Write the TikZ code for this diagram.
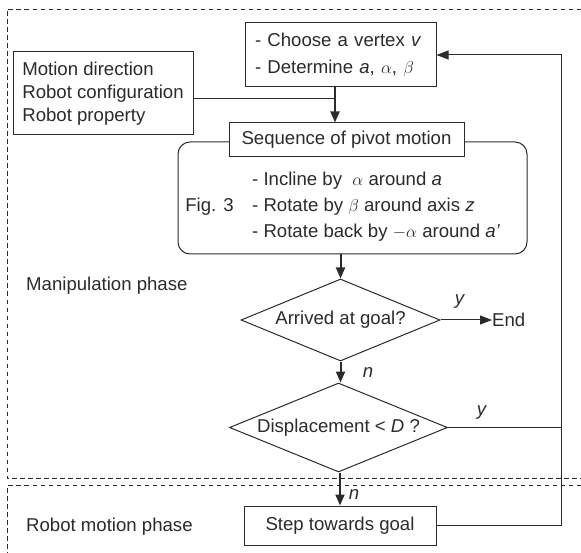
\documentclass[tikz,border=0pt]{standalone}
\usepackage{amsmath}
\usepackage{fontspec}
\setmainfont{Liberation Sans}
\usetikzlibrary{shapes.geometric,arrows.meta}

\definecolor{ink}{HTML}{2B2B2B}
\tikzset{
	box/.style={draw, line width=1pt, fill=white, inner sep=0pt},
	cond/.style={diamond, draw, line width=1pt, fill=white, inner sep=0pt, shape aspect=2.45},
	frame/.style={line width=0.9pt, dash pattern=on 4.5pt off 3.5pt},
	link/.style={line width=1pt},
	flow/.style={line width=2pt, -{Triangle[length=11pt,width=9pt]}},
	tip/.style={line width=1pt, -{Triangle[length=12pt,width=9pt]}}
}

\begin{document}
\begin{tikzpicture}[x=1pt, y=-1pt, color=ink, font=\fontsize{18.6}{23}\selectfont]
			\useasboundingbox (0,0) rectangle (581,553);
			% Phase frames
			\draw[frame] (581,9) -- (7.5,9) -- (7.5,478.7) -- (581,478.7);
			\draw[frame] (581,485.5) -- (7.5,485.5) -- (7.5,553);
			\node[anchor=west, inner sep=0pt] (manip) at (26,286) {Manipulation phase};
			\node[anchor=west, inner sep=0pt] (robot) at (26,527) {Robot motion phase};
			% Nodes
			\node[box, minimum width=191pt, minimum height=64pt, text width=171pt, inner xsep=10pt, align=left, font=\fontsize{18.6}{27}\selectfont] (choose) at (340.5,55) {- Choose a vertex \textit{v}\\- Determine \textit{a}, $\alpha$, $\beta$};
			\node[box, minimum width=180pt, minimum height=83pt, align=left] (motion) at (103,93.5) {Motion direction\\Robot configuration\\Robot property};
			\node[box, rounded corners=12pt, minimum width=349pt, minimum height=112pt] (pivot) at (352.5,198) {};
			\node[box, minimum width=235pt, minimum height=34pt] (seq) at (346.5,140) {Sequence of pivot motion};
			\node[inner sep=0pt] (fig) at (209.5,207) {Fig. 3};
			\node[anchor=west, inner sep=0pt, align=left, font=\fontsize{18.6}{26}\selectfont] (steps) at (252,207) {- Incline by\ \ $\alpha$ around \textit{a}\\- Rotate by $\beta$ around axis \textit{z}\\- Rotate back by $-\alpha$ around \textit{a'}};
			\node[cond, minimum width=199pt, minimum height=82pt] (arrive) at (340.5,320) {Arrived at goal?};
			\node[anchor=west, inner sep=0pt] (finish) at (492,320) {End};
			\node[cond, minimum width=218pt, minimum height=89pt] (disp) at (338.5,427.5) {Displacement < \textit{D} ?};
			\node[box, minimum width=192pt, minimum height=39pt] (stepgoal) at (340,525.5) {Step towards goal};
			\coordinate (join) at (335,99);
			\coordinate (back) at (561,527);
			% Connectors
			\draw[link] ([yshift=-5.5pt]motion.east) -- (join);
			\draw[flow] (choose.south -| join) -- (seq.north -| join);
			\draw[flow] (pivot.south -| arrive.north) -- (arrive.north);
			\draw[tip] (arrive.east) -- (finish.west);
			\draw[flow] (arrive.south) -- (arrive.south |- disp.north);
			\draw[flow] (disp.south -| stepgoal.north) -- (stepgoal.north);
			\draw[link] (disp.east) -- (disp.east -| back);
			\draw[tip] (stepgoal.east) -- (stepgoal.east -| back) -- (back |- choose.east) -- (choose.east);
			% Branch labels
			\node (y1) at (460,302) {\textit{y}};
			\node (y2) at (482,413) {\textit{y}};
			\node (n1) at (368,373) {\textit{n}};
			\node (n2) at (354,494) {\textit{n}};
		\end{tikzpicture}
\end{document}
